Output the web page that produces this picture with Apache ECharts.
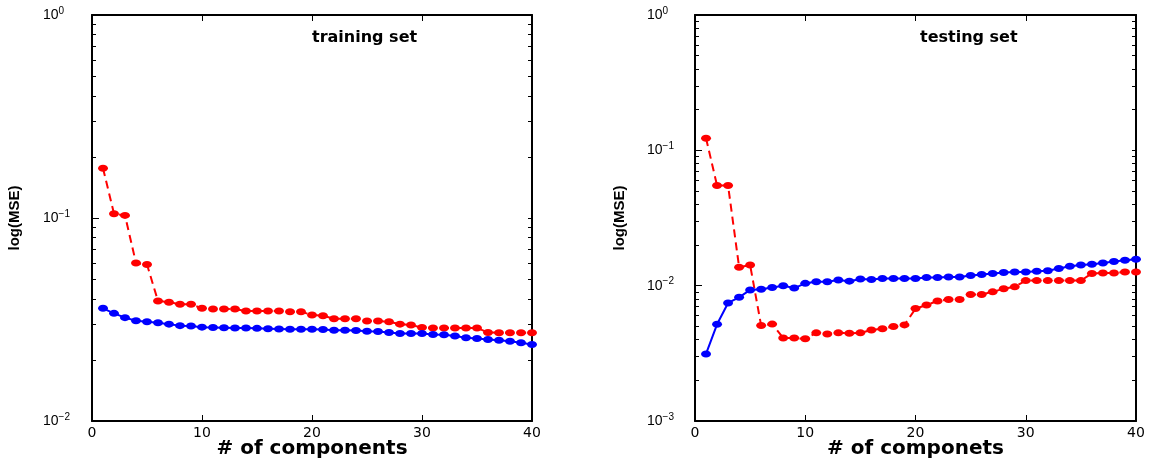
<!DOCTYPE html>
<html>
<head>
<meta charset="utf-8">
<script src="https://cdn.jsdelivr.net/npm/echarts@6/dist/echarts.min.js"></script>
<style>html,body{margin:0;background:#fff}#main{width:1153px;height:460px}</style>
</head>
<body>
<div id="main"></div>
<script>
// number of components (x)
var components = [1,2,3,4,5,6,7,8,9,10,11,12,13,14,15,16,17,18,19,20,
                  21,22,23,24,25,26,27,28,29,30,31,32,33,34,35,36,37,38,39,40];

// training set
var trainRed = [0.176,0.105,0.103,0.060,0.059,0.039,0.0385,0.0376,0.0376,0.0359,
                0.0356,0.0356,0.0356,0.0348,0.0348,0.0348,0.0348,0.0345,0.0345,0.0333,
                0.0330,0.0319,0.0319,0.0319,0.0311,0.0311,0.0308,0.0300,0.0297,0.0289,
                0.0287,0.0287,0.0287,0.0287,0.0287,0.0273,0.0272,0.0272,0.0272,0.0272];
var trainBlue = [0.0359,0.0339,0.0323,0.0312,0.0308,0.0305,0.0300,0.0295,0.0294,0.0290,
                 0.0289,0.0288,0.0287,0.0287,0.0286,0.0285,0.0284,0.0283,0.0283,0.0283,
                 0.0282,0.0280,0.0280,0.0279,0.0277,0.0276,0.0273,0.0270,0.0270,0.0270,
                 0.0267,0.0266,0.0262,0.0257,0.0255,0.0252,0.0250,0.0247,0.0243,0.0238];

// testing set
var testRed = [0.123,0.055,0.055,0.0137,0.0142,0.00507,0.0052,0.0041,0.0041,0.00405,
               0.00448,0.0044,0.00448,0.00445,0.00448,0.0047,0.0048,0.0050,0.00513,0.00677,
               0.0072,0.0077,0.0079,0.0079,0.0086,0.0086,0.0090,0.0095,0.0098,0.0109,
               0.0109,0.0109,0.0109,0.0109,0.0109,0.0123,0.0124,0.0124,0.0126,0.0126];
var testBlue = [0.00313,0.00518,0.00745,0.0082,0.0093,0.0094,0.0097,0.0100,0.0096,0.0104,
                0.0107,0.0107,0.0110,0.0108,0.0112,0.0111,0.0113,0.0113,0.0113,0.0113,
                0.0115,0.0115,0.0116,0.0116,0.0119,0.0121,0.0123,0.0125,0.0126,0.0126,
                0.0128,0.0129,0.0134,0.0139,0.0142,0.0144,0.0147,0.0151,0.0154,0.0157];

// log axis ticks
var trainMajor = [0.01, 0.1, 1];
var testMajor = [0.001, 0.01, 0.1, 1];
var trainMinor = [0.02,0.03,0.04,0.05,0.06,0.07,0.08,0.09,
                  0.2,0.3,0.4,0.5,0.6,0.7,0.8,0.9];
var testMinor = [0.002,0.003,0.004,0.005,0.006,0.007,0.008,0.009,
                 0.02,0.03,0.04,0.05,0.06,0.07,0.08,0.09,
                 0.2,0.3,0.4,0.5,0.6,0.7,0.8,0.9];

function pairs(ys) {
    return ys.map(function (v, i) { return [components[i], v]; });
}

function powLabel(v) {
    var e = Math.round(Math.log10(v));
    return '{b|10}{sup|' + (e < 0 ? '\u2212' + (-e) : e) + '}';
}

var black = '#000';
var lineW = {color: black, width: 2};

function yAxes(g, min, major, minor, nameGap, margin) {
    return [{
        type: 'log', logBase: 10, gridIndex: g, min: min, max: 1, position: 'left',
        axisLine: {show: true, onZero: false, lineStyle: lineW},
        axisTick: {show: true, inside: true, length: 7, customValues: major, lineStyle: {color: black}},
        axisLabel: {
            customValues: major, formatter: powLabel, align: 'left', margin: margin,
            rich: {
                b: {fontFamily: 'Liberation Sans', fontSize: 14, color: black, lineHeight: 18},
                sup: {fontFamily: 'Liberation Sans', fontSize: 10, color: black, verticalAlign: 'top', lineHeight: 18}
            }
        },
        splitLine: {show: false},
        name: 'log(MSE)', nameLocation: 'middle', nameRotate: 90, nameGap: nameGap, nameMoveOverlap: false,
        nameTextStyle: {fontFamily: 'Liberation Sans', fontWeight: 'bold', fontSize: 15, color: black}
    }, {
        type: 'log', logBase: 10, gridIndex: g, min: min, max: 1, position: 'left',
        axisLine: {show: false, onZero: false},
        axisTick: {show: true, inside: true, length: 4, customValues: minor, lineStyle: {color: black}},
        axisLabel: {show: false},
        splitLine: {show: false}
    }, {
        type: 'log', logBase: 10, gridIndex: g, min: min, max: 1, position: 'right',
        axisLine: {show: true, onZero: false, lineStyle: lineW},
        axisTick: {show: true, inside: true, length: 4, customValues: major.concat(minor), lineStyle: {color: black}},
        axisLabel: {show: false},
        splitLine: {show: false}
    }];
}

function xAxes(g, name) {
    return [{
        type: 'value', gridIndex: g, min: 0, max: 40, interval: 10, position: 'bottom',
        axisLine: {onZero: false, lineStyle: lineW},
        axisTick: {inside: true, length: 6, lineStyle: {color: black}},
        axisLabel: {fontFamily: 'DejaVu Sans', fontSize: 14, color: black, margin: 5},
        splitLine: {show: false},
        name: name, nameLocation: 'middle', nameGap: 18, nameMoveOverlap: false,
        nameTextStyle: {fontFamily: 'DejaVu Sans', fontWeight: 'bold', fontSize: 20, lineHeight: 20, color: black}
    }, {
        type: 'value', gridIndex: g, min: 0, max: 40, interval: 10, position: 'top',
        axisLine: {onZero: false, lineStyle: lineW},
        axisTick: {inside: true, length: 6, lineStyle: {color: black}},
        axisLabel: {show: false},
        splitLine: {show: false}
    }];
}

function lineSeries(xi, yi, data, color, dashed) {
    return {
        type: 'line', xAxisIndex: xi, yAxisIndex: yi, data: pairs(data),
        symbol: 'circle', symbolSize: [10, 7], showSymbol: true, clip: false,
        lineStyle: {color: color, width: 2, type: dashed ? [8, 5] : 'solid'},
        itemStyle: {color: color},
        emphasis: {disabled: true}
    };
}

var titleStyle = {fontFamily: 'DejaVu Sans', fontWeight: 'bold', fontSize: 16, color: black};

var myChart = echarts.init(document.getElementById('main'));
var option = {
    backgroundColor: '#fff',
    animation: false,
    title: [
        {text: 'training set', left: 312, top: 30, padding: 0, textStyle: titleStyle},
        {text: 'testing set', left: 920, top: 30, padding: 0, textStyle: titleStyle}
    ],
    grid: [
        {left: 92, top: 15, width: 440, height: 406, containLabel: false, outerBoundsMode: 'none'},
        {left: 695, top: 15, width: 441, height: 406, containLabel: false, outerBoundsMode: 'none'}
    ],
    xAxis: xAxes(0, '# of components').concat(xAxes(1, '# of componets')),
    yAxis: yAxes(0, 0.01, trainMajor, trainMinor, 70, 49).concat(yAxes(1, 0.001, testMajor, testMinor, 68, 48)),
    series: [
        lineSeries(0, 0, trainRed, '#ff0000', true),
        lineSeries(0, 0, trainBlue, '#0000ff', false),
        lineSeries(2, 3, testRed, '#ff0000', true),
        lineSeries(2, 3, testBlue, '#0000ff', false)
    ]
};
myChart.setOption(option);
</script>
</body>
</html>
